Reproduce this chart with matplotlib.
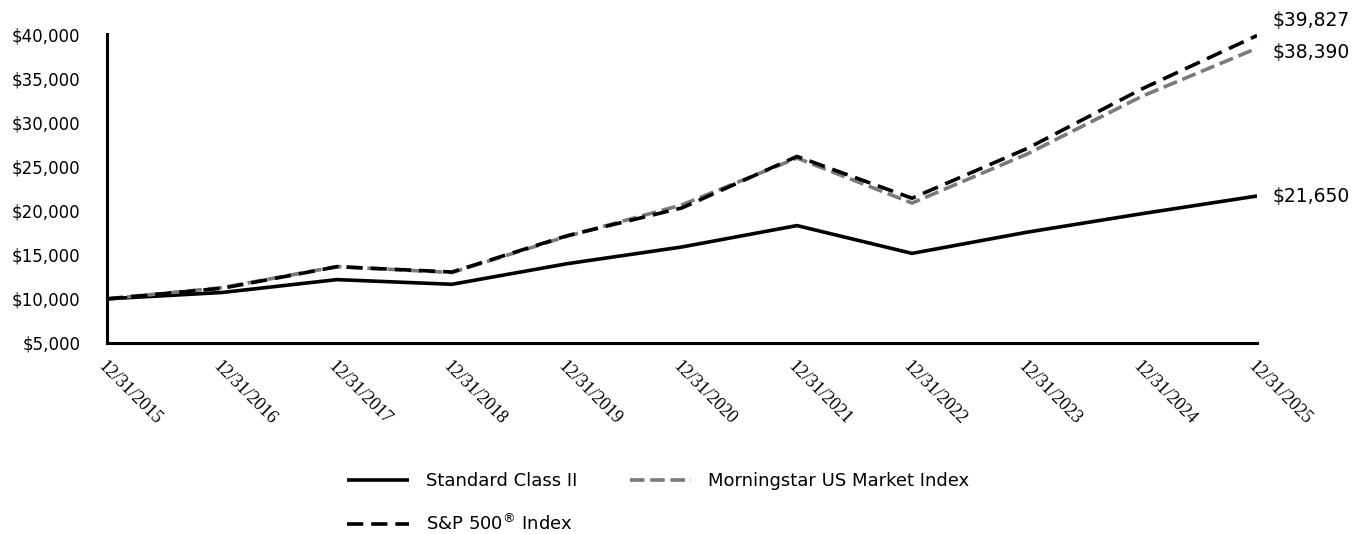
import matplotlib
matplotlib.use("Agg")
import matplotlib.pyplot as plt
from matplotlib.ticker import FuncFormatter

# Growth of $10,000
dates = ['12/31/2015', '12/31/2016', '12/31/2017', '12/31/2018', '12/31/2019',
         '12/31/2020', '12/31/2021', '12/31/2022', '12/31/2023', '12/31/2024',
         '12/31/2025']
standard_class_ii = [10000, 10720, 12180, 11650, 13980, 15880, 18300, 15150, 17550, 19650, 21650]
morningstar_us = [10000, 11270, 13660, 12980, 17080, 20650, 25950, 20850, 26400, 32950, 38390]
sp500 = [10000, 11196, 13640, 13042, 17149, 20304, 26133, 21400, 27025, 33786, 39827]

fig = plt.figure(figsize=(13.63, 5.34), dpi=100)
ax = fig.add_axes([107 / 1363, 1 - 343 / 534, (1257 - 107) / 1363, (343 - 34) / 534])

x = list(range(len(dates)))
l1, = ax.plot(x, standard_class_ii, color='black', lw=2.6, solid_capstyle='butt', zorder=3)
l2, = ax.plot(x, morningstar_us, color='#7a7a7a', lw=2.6, dashes=(4, 1.6), zorder=4)
l3, = ax.plot(x, sp500, color='black', lw=2.6, dashes=(4.5, 2.2), zorder=5)

ax.set_xlim(0, 10)
ax.set_ylim(5000, 40000)
ax.set_yticks(range(5000, 40001, 5000))
ax.yaxis.set_major_formatter(FuncFormatter(lambda v, p: f"${v:,.0f}"))
ax.set_xticks(x)
ax.set_xticklabels(dates, rotation=-45, ha='left', va='top', rotation_mode='anchor',
                   family='Liberation Serif', fontsize=13)
ax.tick_params(axis='both', length=0)
ax.tick_params(axis='x', pad=11)
ax.tick_params(axis='y', pad=19, labelsize=12)

for s in ['top', 'right']:
    ax.spines[s].set_visible(False)
for s in ['left', 'bottom']:
    ax.spines[s].set_linewidth(2.2)

# end labels
ax.annotate(f"${sp500[-1]:,}", (10, sp500[-1]), xytext=(11, 11), textcoords='offset points',
            fontsize=13.5, va='center', ha='left', annotation_clip=False)
ax.annotate(f"${morningstar_us[-1]:,}", (10, morningstar_us[-1]), xytext=(11, -3), textcoords='offset points',
            fontsize=13.5, va='center', ha='left', annotation_clip=False)
ax.annotate(f"${standard_class_ii[-1]:,}", (10, standard_class_ii[-1]), xytext=(11, 0), textcoords='offset points',
            fontsize=13.5, va='center', ha='left', annotation_clip=False)

# column-wise fill: put S&P second so it lands on the second row
fig.legend([l1, l3, l2], ['Standard Class II', 'S&P 500$^{®}$ Index', 'Morningstar US Market Index'],
           loc='upper left', bbox_to_anchor=(331 / 1363, 1 - 456 / 534), ncol=2, frameon=False,
           fontsize=13, handlelength=3.4, handletextpad=0.95, columnspacing=2.9, labelspacing=1.28)

fig.savefig('out.png', dpi=100)
